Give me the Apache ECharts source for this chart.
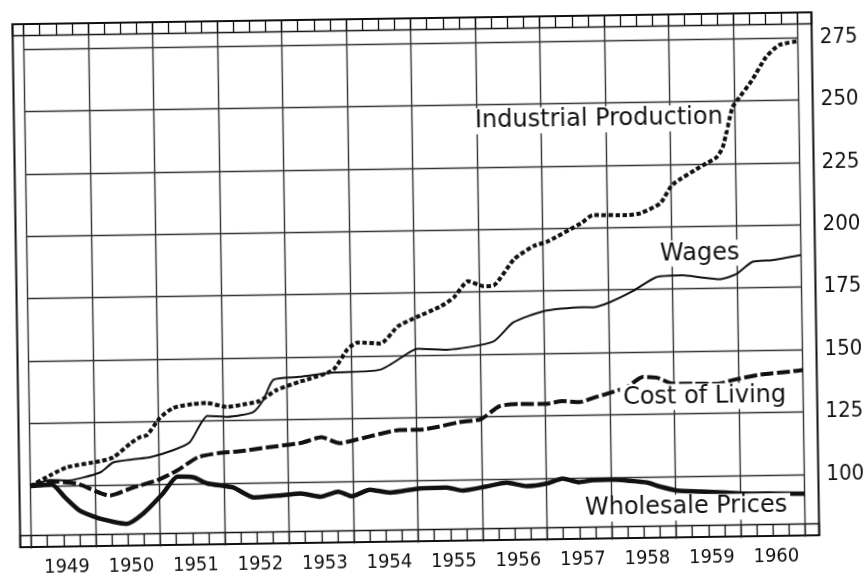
<!DOCTYPE html>
<html>
<head>
<meta charset="utf-8">
<script src="https://cdn.jsdelivr.net/npm/echarts@6/dist/echarts.min.js"></script>
<style>
html, body { margin: 0; padding: 0; background: #fff; }
/* the printed chart is scanned slightly turned, so the whole canvas is turned the same way */
#main { width: 867px; height: 580px; transform: rotate(-0.86deg); transform-origin: 433.5px 290px; }
</style>
</head>
<body>
<div id="main"></div>
<script>
var years = [1949, 1950, 1951, 1952, 1953, 1954, 1955, 1956, 1957, 1958, 1959, 1960];

var prodYears = [1949.00, 1949.30, 1949.57, 1950.08, 1950.29, 1950.56, 1950.71, 1950.82, 1951.02, 1951.23,
    1951.54, 1951.75, 1952.06, 1952.37, 1952.57, 1952.84, 1953.19, 1953.31, 1953.72, 1953.94,
    1954.10, 1954.46, 1954.73, 1954.98, 1955.40, 1955.61, 1955.83, 1956.07, 1956.23, 1956.55,
    1956.86, 1957.08, 1957.60, 1957.78, 1958.31, 1958.52, 1958.83, 1959.02, 1959.50, 1959.71,
    1959.81, 1959.97, 1960.08, 1960.28, 1960.50, 1960.71, 1961.00];
var prodValues = [100, 104.1, 107.3, 109.5, 111.0, 116.5, 118.9, 119.7, 126.5, 130.4,
    131.9, 132.2, 130.5, 131.6, 132.7, 137.0, 140.1, 140.9, 144.7, 152.7,
    155.5, 155.0, 161.7, 164.8, 169.5, 173.1, 179.4, 177.3, 177.6, 188.0,
    193.1, 194.9, 202.0, 205.1, 204.9, 205.6, 209.5, 216.8, 224.4, 227.5,
    231.5, 247.4, 251.4, 258.2, 267.3, 272.1, 273.6];

var wageYears = [1949.00, 1949.30, 1949.57, 1950.08, 1950.29, 1950.60, 1950.86, 1951.22, 1951.48, 1951.76,
    1952.07, 1952.47, 1952.63, 1952.79, 1953.20, 1953.72, 1954.45, 1954.92, 1955.03, 1955.49,
    1956.21, 1956.52, 1956.99, 1957.56, 1957.76, 1958.02, 1958.38, 1958.75, 1959.16, 1959.42,
    1959.73, 1959.99, 1960.24, 1960.55, 1961.00];
var wageValues = [100, 102.3, 102.0, 105.0, 109.0, 110.1, 110.8, 113.5, 116.6, 127.0,
    126.5, 128.3, 133.1, 141.1, 142.1, 143.6, 144.5, 151.5, 152.7, 152.1,
    155.1, 162.6, 166.9, 168.3, 168.2, 170.1, 174.4, 179.9, 180.5, 179.6,
    178.7, 180.6, 185.4, 186.0, 187.9];

var livingYears = [1949.00, 1949.33, 1949.72, 1950.23, 1950.59, 1950.96, 1951.28, 1951.60, 1951.91, 1952.27,
    1952.70, 1953.20, 1953.52, 1953.80, 1954.06, 1954.42, 1954.73, 1955.04, 1955.30, 1955.66,
    1956.00, 1956.29, 1956.60, 1957.01, 1957.26, 1957.53, 1957.75, 1958.00, 1958.27, 1958.52,
    1958.74, 1958.98, 1959.30, 1959.67, 1959.92, 1960.34, 1960.85, 1961.00];
var livingValues = [100, 101.7, 100.7, 95.7, 98.8, 101.5, 105.4, 110.5, 112.0, 112.7,
    114.1, 115.6, 117.8, 115.3, 116.6, 118.7, 120.2, 120.2, 121.1, 123.0,
    124.1, 129.2, 129.9, 129.8, 130.8, 130.3, 132.0, 133.8, 136.1, 140.0,
    139.6, 137.1, 137.0, 136.8, 138.3, 140.2, 141.4, 141.8];

var wholesaleYears = [1949.00, 1949.33, 1949.53, 1949.76, 1950.07, 1950.48, 1950.74, 1951.05, 1951.28, 1951.53,
    1951.74, 1952.14, 1952.46, 1952.83, 1953.19, 1953.49, 1953.77, 1953.98, 1954.26, 1954.57,
    1955.03, 1955.45, 1955.70, 1956.07, 1956.38, 1956.69, 1957.00, 1957.25, 1957.50, 1957.72,
    1958.02, 1958.25, 1958.56, 1958.76, 1959.03, 1959.38, 1959.80, 1960.05, 1960.58, 1961.00];
var wholesaleValues = [100, 100.5, 95.3, 89.8, 86.5, 84.3, 88.3, 96.2, 102.9, 102.5,
    100.0, 98.2, 94.1, 94.7, 95.4, 94.0, 95.9, 94.0, 96.5, 95.2,
    96.7, 96.9, 95.6, 97.1, 98.5, 97.0, 97.9, 99.8, 98.2, 99.0,
    99.1, 98.6, 97.7, 96.0, 94.3, 93.8, 93.2, 92.7, 92.5, 92.3];

var chartDom = document.getElementById('main');
var myChart = echarts.init(chartDom);
var option;

function pairs(xs, ys) {
    return xs.map(function (x, i) { return [x, ys[i]]; });
}

var ink = '#111';
var gridInk = '#333';
var numFont = "'DejaVu Sans Condensed', 'DejaVu Sans', sans-serif";
var textFont = "'DejaVu Sans', sans-serif";

function hidden(i) {
    return { gridIndex: i, type: 'value', min: 0, max: 1, show: false };
}

function quarterAxis(i) {
    return {
        gridIndex: i, type: 'value', min: 1949, max: 1961, interval: 0.25,
        axisLine: { show: false }, axisTick: { show: false }, axisLabel: { show: false },
        splitLine: { show: true, lineStyle: { color: ink, width: 1.3 } }
    };
}

function lineSeries(name, xs, ys, width, dash) {
    return {
        type: 'line', name: name, xAxisIndex: 0, yAxisIndex: 0,
        data: pairs(xs, ys), showSymbol: false, symbol: 'none', smooth: 0.2,
        lineStyle: { color: ink, width: width, type: dash, cap: 'butt' },
        z: 5
    };
}

function tag(text, x, y) {
    return {
        type: 'text', x: x, y: y, z: 50,
        style: {
            text: text, fill: ink, font: '24px ' + textFont,
            textAlign: 'left', align: 'left', textVerticalAlign: 'middle', verticalAlign: 'middle',
            backgroundColor: '#fff', padding: [1, 3]
        }
    };
}

var bottomTicks = quarterAxis(5);
bottomTicks.position = 'bottom';
bottomTicks.axisLabel = {
    show: true, margin: 11, color: ink, fontFamily: numFont, fontSize: 20, padding: [0, 0, 0, 6],
    formatter: function (v) {
        var y = Math.floor(v + 1e-6);
        return (Math.abs(v - y - 0.5) < 1e-6 && years.indexOf(y) >= 0) ? String(y) : '';
    }
};

option = {
    animation: false,
    backgroundColor: '#fff',
    grid: [
        { left: 27.6, right: 65.4, top: 18.05, height: 524.35 },
        { left: 16.5, right: 51.5, top: 18, bottom: 39, show: true, borderColor: ink, borderWidth: 2 },
        { left: 16.5, right: 51.5, top: 18, height: 11.5, show: true, borderColor: ink, borderWidth: 1.5 },
        { left: 16.5, right: 51.5, top: 529.5, height: 11.5, show: true, borderColor: ink, borderWidth: 1.5 },
        { left: 27.6, right: 65.4, top: 18, height: 11.5 },
        { left: 27.6, right: 65.4, top: 529.5, height: 11.5 }
    ],
    xAxis: [
        {
            gridIndex: 0, type: 'value', min: 1949, max: 1961, interval: 1,
            axisLine: { show: false }, axisTick: { show: false }, axisLabel: { show: false },
            splitLine: { show: true, lineStyle: { color: gridInk, width: 1.4 } }
        },
        hidden(1), hidden(2), hidden(3),
        quarterAxis(4),
        bottomTicks
    ],
    yAxis: [
        {
            gridIndex: 0, type: 'value', min: 75, max: 285, interval: 25, position: 'right',
            axisLine: { show: false }, axisTick: { show: false },
            splitLine: { show: true, showMinLine: false, showMaxLine: false, lineStyle: { color: gridInk, width: 1.4 } },
            axisLabel: {
                margin: 22, color: ink, fontFamily: numFont, fontSize: 22,
                formatter: function (v) { return (v >= 100 && v <= 275) ? String(v) : ''; }
            }
        },
        hidden(1), hidden(2), hidden(3), hidden(4), hidden(5)
    ],
    series: [
        lineSeries('Industrial Production', prodYears, prodValues, 4, [4.5, 2.5]),
        lineSeries('Wages', wageYears, wageValues, 2, 'solid'),
        lineSeries('Cost of Living', livingYears, livingValues, 4, [13, 3.5]),
        lineSeries('Wholesale Prices', wholesaleYears, wholesaleValues, 4.5, 'solid')
    ],
    graphic: [
        tag('Industrial Production', 474.5, 121.9),
        tag('Wages', 657.5, 257.3),
        tag('Cost of Living', 618.4, 400.5),
        tag('Wholesale Prices', 578.7, 511.2)
    ]
};

option && myChart.setOption(option);
</script>
</body>
</html>
